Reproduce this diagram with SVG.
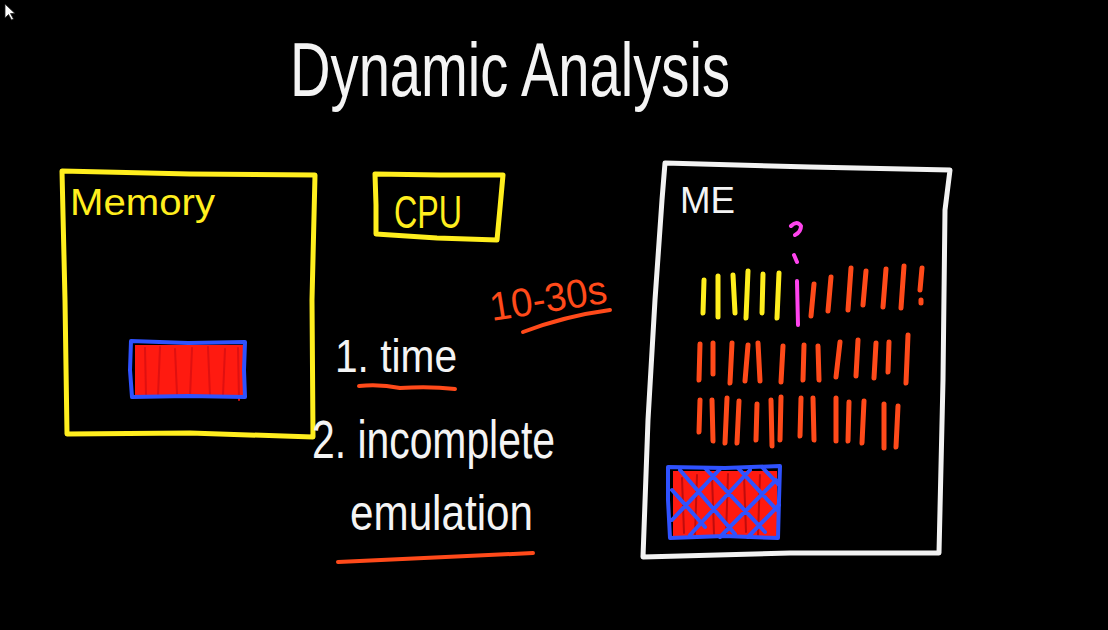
<svg xmlns="http://www.w3.org/2000/svg" width="1108" height="630" viewBox="0 0 1108 630">
<style>
.txt{font-family:"Liberation Sans","DejaVu Sans",sans-serif;}
.w{fill:#f4f4f4;}
.y{fill:#ffee1e;}
.o{fill:#ff4a1a;}
.ln{fill:none;stroke-linecap:round;stroke-linejoin:round;}
.ys{stroke:#ffee1e;stroke-width:5;}
.ws{stroke:#f2f2f2;stroke-width:5;}
.os{stroke:#ff4a1a;stroke-width:4;}
.bs{stroke:#2f52ff;stroke-width:4;}
.ms{stroke:#ff44ee;stroke-width:4;}
.tick{stroke-width:5;}
</style>
<rect width="1108" height="630" fill="#000"/>
<polygon points="5,4 5,18 8.5,14.5 11.5,20 13.5,19 10.5,13.5 15,13.5" fill="#fff" stroke="#222" stroke-width="0.8"/>

<g id="title">
<text class="txt w" x="290" y="96" font-size="76" textLength="440" lengthAdjust="spacingAndGlyphs">Dynamic Analysis</text>
</g>

<g id="memory">
<path class="ln ys" d="M62,171 L190,174 L315,175 L312,300 L313,437 L190,433 L67,434 L65,300 Z"/>
<text class="txt y" x="70" y="215" font-size="36" textLength="145" lengthAdjust="spacingAndGlyphs">Memory</text>
<rect x="135" y="345" width="108" height="52" fill="#ff1a10"/>
<path class="ln" stroke="#e01010" stroke-width="2" d="M145,348 L146,395 M160,347 L158,396 M175,349 L177,394 M192,348 L190,397 M208,347 L210,396 M225,349 L223,395 M238,348 L239,400"/>
<path class="ln bs" d="M131,341 L188,343 L245,342 L244,370 L245,397 L188,396 L132,397 L130,370 Z"/>
</g>

<g id="cpu">
<path class="ln ys" d="M375,174 L440,175 L503,175 L500,208 L497,240 L437,238 L376,234 L376,205 Z"/>
<text class="txt y" x="394" y="228" font-size="46" textLength="68" lengthAdjust="spacingAndGlyphs">CPU</text>
</g>

<g id="timing">
<text class="txt o" x="492" y="321" font-size="40" textLength="118" lengthAdjust="spacingAndGlyphs" transform="rotate(-9 492 321)">10-30s</text>
<path class="ln os" d="M523,332 Q565,316 610,310"/>
</g>

<g id="list">
<text class="txt w" x="335" y="372" font-size="46" textLength="122" lengthAdjust="spacingAndGlyphs">1. time</text>
<path class="ln os" d="M359,386 Q380,384 400,388 Q430,386 455,389"/>
<text class="txt w" x="312" y="458" font-size="54" textLength="243" lengthAdjust="spacingAndGlyphs">2. incomplete</text>
<text class="txt w" x="350" y="530" font-size="50" textLength="183" lengthAdjust="spacingAndGlyphs">emulation</text>
<path class="ln os" d="M338,562 Q440,557 533,553"/>
</g>

<g id="me">
<path class="ln ws" d="M665,163 L810,167 L950,170 L945,210 L943,380 L939,553 L790,553 L643,557 L648,420 L655,300 L662,200 Z"/>
<text class="txt w" x="680" y="213" font-size="36" textLength="55" lengthAdjust="spacingAndGlyphs">ME</text>
<path class="ln ms" d="M791,226 Q797,220 801,226 Q801,232 795,235 M794,255 L797,262 M797,281 L798,325"/>
<g class="ln ys tick">
<path d="M704,280 L703,313"/><path d="M718,276 L718,317"/><path d="M733,275 L735,313"/><path d="M748,271 L746,318"/><path d="M763,274 L762,313"/><path d="M779,273 L777,318"/>
</g>
<g class="ln os tick">
<path d="M814,284 L811,316"/><path d="M831,277 L828,311"/><path d="M851,268 L848,310"/><path d="M866,271 L863,305"/><path d="M886,269 L883,307"/><path d="M904,266 L901,308"/><path d="M922,268 L920,290 M921,300 L921,303"/>
<path d="M700,344 L699,380"/><path d="M713,343 L713,374"/><path d="M732,343 L730,383"/><path d="M748,345 L745,381"/><path d="M758,343 L760,381"/><path d="M783,346 L781,382"/><path d="M804,345 L803,380"/><path d="M818,346 L819,380"/><path d="M840,342 L836,377"/><path d="M858,340 L856,376"/><path d="M876,343 L874,378"/><path d="M889,342 L888,372"/><path d="M908,335 L906,383"/>
<path d="M700,400 L699,432"/><path d="M712,400 L713,441"/><path d="M727,398 L725,443"/><path d="M739,401 L737,443"/><path d="M757,404 L756,440"/><path d="M771,400 L772,446"/><path d="M781,397 L780,440"/><path d="M801,398 L800,436"/><path d="M813,398 L814,440"/><path d="M836,398 L836,441"/><path d="M849,402 L848,441"/><path d="M864,401 L862,443"/><path d="M884,404 L884,448"/><path d="M898,406 L896,447"/>
</g>
<rect x="673" y="471" width="104" height="67" fill="#ff1a10"/>
<path class="ln" stroke="#c00c0c" stroke-width="2" d="M682,478 L684,533 M697,475 L695,535 M712,476 L714,534 M728,474 L726,536 M744,476 L746,532 M760,475 L758,535"/>
<path class="ln bs" d="M668,467 L725,468 L780,466 L779,500 L778,538 L724,536 L670,538 L668,500 Z"/>
<path class="ln bs" stroke-width="3" d="M672,490 L705,527 M680,470 L735,534 M705,468 L765,532 M738,468 L777,510 M762,467 L779,485 M690,535 L750,470 M720,537 L776,480 M672,520 L720,469 M748,537 L779,505"/>
</g>
</svg>
